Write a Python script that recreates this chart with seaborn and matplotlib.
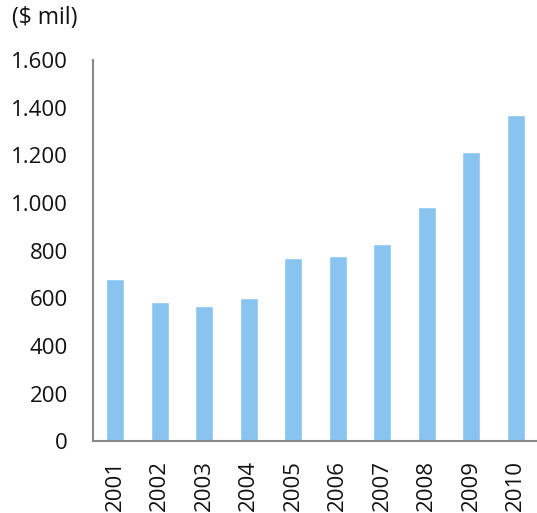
import matplotlib
matplotlib.use("Agg")
import matplotlib.pyplot as plt
import seaborn as sns
import pandas as pd
from matplotlib.ticker import FuncFormatter

years = ["2001", "2002", "2003", "2004", "2005", "2006", "2007", "2008", "2009", "2010"]
values = [680, 584, 566, 599, 768, 776, 826, 983, 1212, 1370]
y_ticks = [0, 200, 400, 600, 800, 1000, 1200, 1400, 1600]

sns.set_style("white")
plt.rcParams["font.family"] = ["Open Sans", "DejaVu Sans"]

df = pd.DataFrame({"year": years, "value": values})

fig = plt.figure(figsize=(5.37, 5.13), dpi=100)
ax = fig.add_axes([0.173, 0.140, 0.829, 0.743])

sns.barplot(data=df, x="year", y="value", color="#89C4F0", width=0.4,
            saturation=1, ax=ax)

ax.set_xlim(-0.5, 9.5)
ax.set_ylim(0, 1600)
ax.set_yticks(y_ticks)
ax.yaxis.set_major_formatter(FuncFormatter(lambda v, p: f"{int(v):,}".replace(",", ".")))
ax.set_xlabel("")
ax.set_ylabel("")

for side in ["top", "right"]:
    ax.spines[side].set_visible(False)
for side in ["left", "bottom"]:
    ax.spines[side].set_color("#888888")
    ax.spines[side].set_linewidth(1.5)

ax.tick_params(axis="y", length=0, pad=18, labelsize=16, labelcolor="#111111")
ax.tick_params(axis="x", length=0, pad=13.5, labelsize=16, labelcolor="#111111",
               labelrotation=90)

fig.text(0.022, 0.965, "($ mil)", fontsize=16.5, color="#111111",
         ha="left", va="center")

fig.savefig("out.png", dpi=100)
